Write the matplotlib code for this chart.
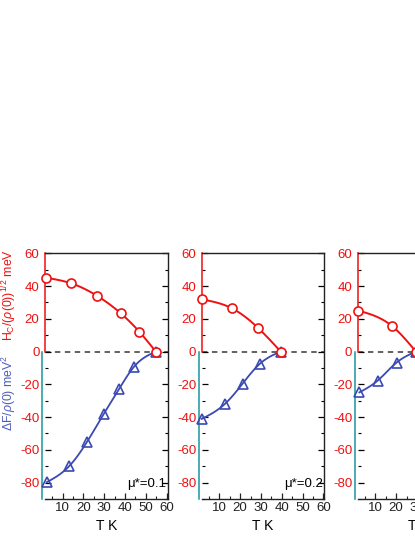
import matplotlib
matplotlib.use('Agg')
import matplotlib.pyplot as plt
import numpy as np
from matplotlib.spines import Spine
from matplotlib.ticker import MultipleLocator

plt.rcParams['font.family'] = ['Liberation Sans', 'DejaVu Sans']
plt.rcParams['mathtext.fontset'] = 'custom'
plt.rcParams['mathtext.rm'] = 'Liberation Sans'
plt.rcParams['mathtext.it'] = 'Liberation Sans:italic'

# ---- data ----
mu_labels = ['μ*=0.1', 'μ*=0.2', '']
T_hc_1 = [2.0, 14.0, 26.6, 37.9, 46.8, 54.8]
hc_1 = [45.1, 41.7, 34.0, 23.4, 12.2, 0.0]
T_df_1 = [2.3, 13.0, 21.8, 29.7, 37.1, 44.4, 54.8]
df_1 = [-79.8, -70.1, -54.9, -38.2, -22.9, -9.1, 0.0]
T_hc_2 = [1.5, 15.9, 28.4, 39.5]
hc_2 = [31.9, 26.5, 14.7, 0.0]
T_df_2 = [1.5, 12.7, 21.2, 29.5, 39.5]
df_2 = [-41.1, -31.9, -19.5, -7.4, 0.0]
T_hc_3 = [1.8, 17.9, 29.5]
hc_3 = [25.0, 15.7, 0.0]
T_df_3 = [2.3, 11.1, 20.2, 29.5]
df_3 = [-24.9, -17.7, -6.7, 0.0]
x_ticks = [10, 20, 30, 40, 50, 60]
y_ticks = [-80, -60, -40, -20, 0, 20, 40, 60]

RED = '#f01010'
TEAL = '#17979a'
BLUE = '#3b49b2'
BLUE_LABEL = '#4c5cbc'


def natural_spline(x, y, n=120):
    x = np.asarray(x, float); y = np.asarray(y, float)
    m = len(x)
    if m < 3:
        return x, y
    h = np.diff(x)
    A = np.zeros((m, m)); b = np.zeros(m)
    A[0, 0] = 1; A[-1, -1] = 1
    for i in range(1, m - 1):
        A[i, i - 1] = h[i - 1]
        A[i, i] = 2 * (h[i - 1] + h[i])
        A[i, i + 1] = h[i]
        b[i] = 6 * ((y[i + 1] - y[i]) / h[i] - (y[i] - y[i - 1]) / h[i - 1])
    M = np.linalg.solve(A, b)
    xs = np.linspace(x[0], x[-1], n)
    idx = np.clip(np.searchsorted(x, xs) - 1, 0, m - 2)
    x0 = x[idx]; x1 = x[idx + 1]; hh = x1 - x0
    a = (x1 - xs) / hh; c = (xs - x0) / hh
    ys = (a * y[idx] + c * y[idx + 1]
          + ((a ** 3 - a) * M[idx] + (c ** 3 - c) * M[idx + 1]) * hh ** 2 / 6)
    return xs, ys


fig = plt.figure(figsize=(4.15, 5.37), dpi=100)
W, H = 415.0, 537.0
lefts = [45.0, 201.7, 357.7]
width = 122.7
top, bottom = 253.0, 499.0

panels = [(T_hc_1, hc_1, T_df_1, df_1), (T_hc_2, hc_2, T_df_2, df_2),
          (T_hc_3, hc_3, T_df_3, df_3)]

for k, (Th, hc, Td, df) in enumerate(panels):
    ax = fig.add_axes([lefts[k] / W, (H - bottom) / H, width / W, (bottom - top) / H])
    ax.set_xlim(1.5, 60.5)
    ax.set_ylim(-90, 60.2)
    ax.axhline(0, color='#555555', lw=1.3, ls=(0, (3, 2.5)), zorder=1)

    xs, ys = natural_spline(Th, hc)
    ax.plot(xs, ys, color=RED, lw=1.4, zorder=2, clip_on=False)
    ax.plot(Th, hc, ls='none', marker='o', ms=6.5, mfc='white', mec=RED, mew=1.2,
            zorder=4, clip_on=False)
    xs, ys = natural_spline(Td, df)
    ax.plot(xs, ys, color=BLUE, lw=1.3, zorder=2, clip_on=False)
    ax.plot(Td, df, ls='none', marker='^', ms=7, mfc='none', mec=BLUE, mew=1.2,
            zorder=3, clip_on=False)

    # spines
    for s in ['top', 'right', 'bottom']:
        ax.spines[s].set_color('#222222')
        ax.spines[s].set_linewidth(1.0)
    ax.spines['left'].set_bounds(0, 60.2)
    ax.spines['left'].set_color(RED)
    ax.spines['left'].set_linewidth(1.1)
    sp = Spine.linear_spine(ax, 'left')
    sp.set_bounds(-90, 0)
    sp.set_color(TEAL)
    sp.set_linewidth(1.1)
    ax.spines['left_low'] = sp

    ax.set_xticks(x_ticks)
    ax.xaxis.set_minor_locator(MultipleLocator(5))
    ax.set_yticks(y_ticks)
    ax.yaxis.set_minor_locator(MultipleLocator(10))
    ax.tick_params(axis='both', which='both', direction='in', labelsize=9.5)
    ax.tick_params(axis='both', which='major', length=4, width=0.9)
    ax.tick_params(axis='both', which='minor', length=2.2, width=0.8)
    ax.tick_params(axis='y', which='both', right=True, labelright=False, pad=4)
    ax.tick_params(axis='x', which='both', colors='#222222', pad=2.5)

    for t in ax.yaxis.get_major_ticks():
        v = t.get_loc()
        c = RED if v >= 0 else TEAL
        t.tick1line.set_color(c)
        t.label1.set_color(c)
        t.tick2line.set_color('#222222')
    ax.yaxis.set_major_formatter(matplotlib.ticker.FuncFormatter(lambda v, p: f'{v:.0f}'))
    for t in ax.yaxis.get_minor_ticks():
        v = t.get_loc()
        t.tick1line.set_color(RED if v >= 0 else TEAL)
        t.tick2line.set_color('#222222')

    ax.set_xlabel('T K', fontsize=10, labelpad=3)
    if mu_labels[k]:
        ax.text(0.985, -80.7, mu_labels[k], transform=ax.get_yaxis_transform(),
                ha='right', va='center', fontsize=9.5, color='black')

fig.text(9 / W, 1 - 295 / H, r'H$_\mathregular{C}$/($\rho$(0))$^\mathregular{1/2}$ meV',
         rotation=90, ha='center', va='center', fontsize=8.8, color=RED)
fig.text(9 / W, 1 - 393 / H, r'$\Delta$F/$\rho$(0) meV$^\mathregular{2}$',
         rotation=90, ha='center', va='center', fontsize=8.8, color=BLUE_LABEL)

fig.savefig('out.png', dpi=100)
